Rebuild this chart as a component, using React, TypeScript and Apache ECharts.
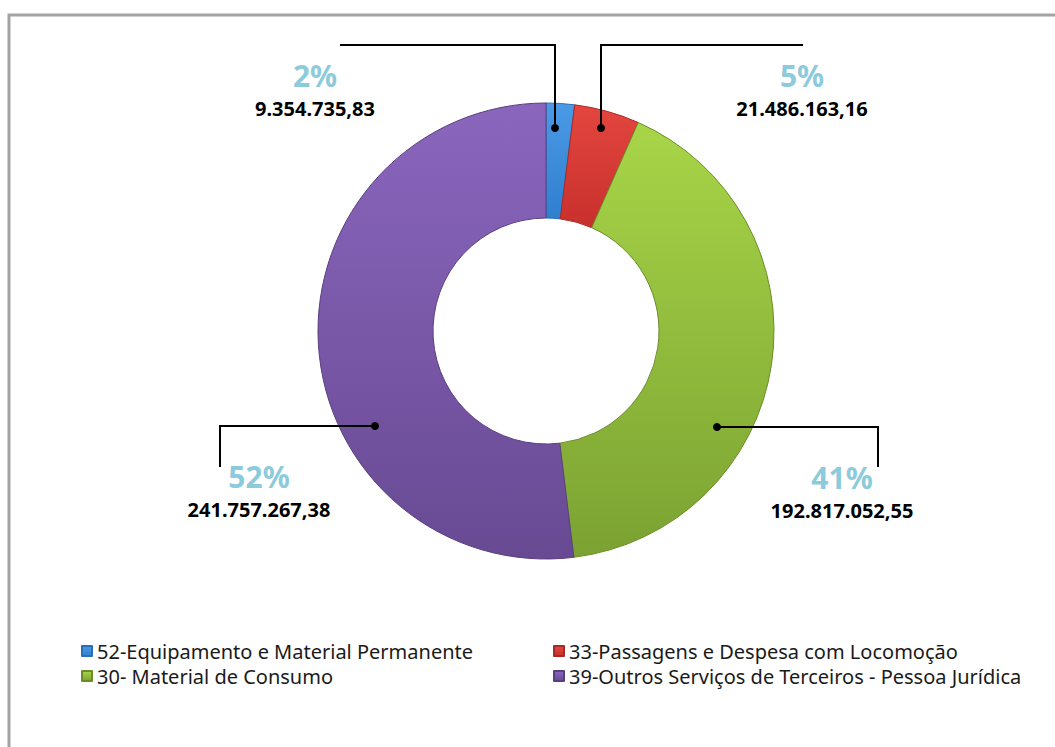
import React, { useEffect, useRef } from "react";
import * as echarts from "echarts";

const categories = [
  "52-Equipamento e Material Permanente",
  "33-Passagens e Despesa com Locomoção",
  "30- Material de Consumo",
  "39-Outros Serviços de Terceiros - Pessoa Jurídica",
];
const values = [9354735.83, 21486163.16, 192817052.55, 241757267.38];
const colorsTop = ["#4a9ae6", "#e4463f", "#a8d548", "#8a66bd"];
const colorsBottom = ["#2f7fcf", "#c8302c", "#7ba232", "#684a93"];
const borderColors = ["#2a6fb5", "#a82a26", "#6a8d2a", "#5a3f80"];

// label anchor (text centre) and leader line points, in page pixels
const labelLayout = [
  { x: 315, y: 91, line: [[555, 128], [555, 45], [340, 45]] },
  { x: 802, y: 91, line: [[601, 128], [601, 45], [803, 45]] },
  { x: 842, y: 493, line: [[717, 427], [878, 427], [878, 467]] },
  { x: 259, y: 492, line: [[375, 426], [220, 426], [220, 467]] },
];

function fmtBR(v: number): string {
  const [i, d] = v.toFixed(2).split(".");
  return i.replace(/\B(?=(\d{3})+(?!\d))/g, ".") + "," + d;
}

export default function App() {
  const ref = useRef<HTMLDivElement>(null);
  useEffect(() => {
    if (!ref.current) return;
    const chart = echarts.init(ref.current, null, { renderer: "svg" });
    const total = values.reduce((a, b) => a + b, 0);
    const data = categories.map((name, i) => ({
      name,
      value: values[i],
      itemStyle: {
        color: new echarts.graphic.LinearGradient(0, 0, 0, 1, [
          { offset: 0, color: colorsTop[i] },
          { offset: 1, color: colorsBottom[i] },
        ]),
        borderColor: borderColors[i],
        borderWidth: 1,
      },
    }));
    const legendCommon = {
      orient: "vertical" as const,
      top: 640,
      padding: 0,
      icon: "rect",
      itemWidth: 10,
      itemHeight: 10,
      itemGap: 3,
      textStyle: {
        fontFamily: "Noto Sans",
        fontSize: 20,
        color: "#1a1a1a",
        lineHeight: 22,
      },
    };
    chart.setOption({
      animation: false,
      backgroundColor: "#ffffff",
      legend: [
        { ...legendCommon, left: 81, data: [categories[0], categories[2]] },
        { ...legendCommon, left: 553, data: [categories[1], categories[3]] },
      ],
      graphic: [
        {
          type: "rect",
          shape: { x: 9, y: 15, width: 1100, height: 800 },
          style: { fill: "none", stroke: "#a3a3a3", lineWidth: 3 },
          silent: true,
        },
        ...labelLayout.map((l) => ({
          type: "polyline",
          shape: { points: l.line },
          style: { stroke: "#000", lineWidth: 2, fill: "none" },
          z: 100,
          silent: true,
        })),
        ...labelLayout.map((l) => ({
          type: "circle",
          shape: { cx: l.line[0][0], cy: l.line[0][1], r: 4 },
          style: { fill: "#000" },
          z: 101,
          silent: true,
        })),
      ],
      series: [
        {
          type: "pie",
          center: [546, 331],
          radius: [113, 228],
          startAngle: 90,
          clockwise: true,
          data,
          label: {
            show: true,
            formatter: (p: any) =>
              "{p|" + Math.round((p.value / total) * 100) + "%}\n{v|" + fmtBR(p.value) + "}",
            rich: {
              p: {
                fontFamily: "Noto Sans",
                fontWeight: "bold",
                fontSize: 30,
                lineHeight: 34,
                color: "#8ccbdb",
                align: "center",
              },
              v: {
                fontFamily: "Noto Sans",
                fontWeight: "bold",
                fontSize: 20,
                lineHeight: 32,
                color: "#000000",
                align: "center",
              },
            },
          },
          labelLine: { show: false },
          labelLayout: (params: any) => {
            const l = labelLayout[params.dataIndex];
            return {
              x: l.x,
              y: l.y,
              align: "center",
              verticalAlign: "middle",
            };
          },
          emphasis: { disabled: true },
        },
      ],
    });
    return () => chart.dispose();
  }, []);
  return (
    <div
      ref={ref}
      style={{ position: "fixed", left: 0, top: 0, width: 1055, height: 747 }}
    />
  );
}
